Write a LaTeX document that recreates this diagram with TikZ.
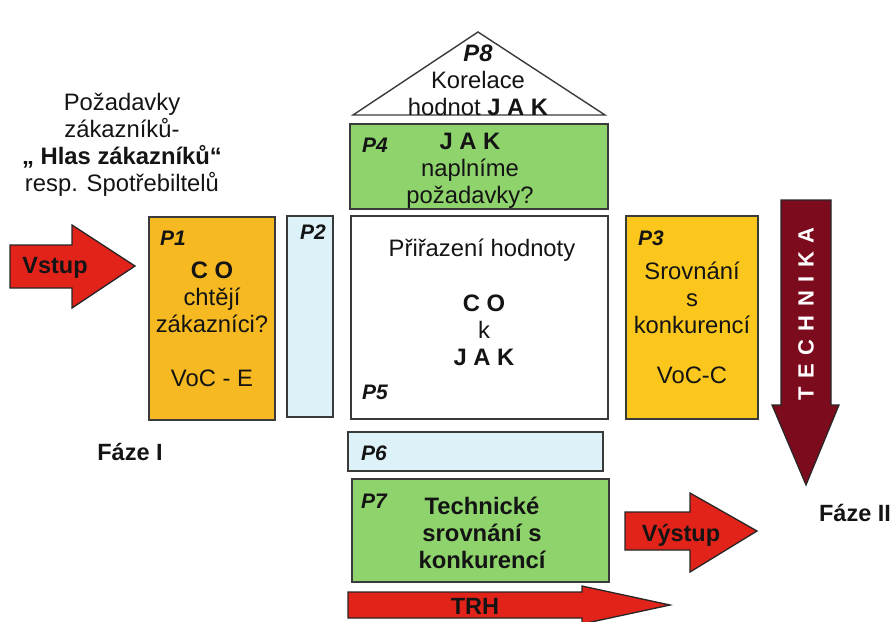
\documentclass[tikz,border=0pt]{standalone}
\usepackage{fontspec}
\setmainfont{Liberation Sans}
\definecolor{orangeA}{HTML}{F6B921}
\definecolor{orangeB}{HTML}{FBC71D}
\definecolor{greenC}{HTML}{8ED36B}
\definecolor{blueC}{HTML}{DCF1F8}
\definecolor{redC}{HTML}{E2231A}
\definecolor{maroonC}{HTML}{7D0B1E}
\definecolor{lineC}{HTML}{3A3A3A}
\definecolor{textC}{HTML}{141414}
\newcommand{\tk}{\kern8.5pt}
\begin{document}
\begin{tikzpicture}[x=1pt,y=-1pt,
  box/.style={draw=lineC, line width=1.4pt, inner sep=0pt},
  txt/.style={font=\fontsize{23.8}{27}\selectfont, text=textC, align=center, inner sep=0pt},
  plab/.style={font=\fontsize{21}{24}\selectfont\bfseries\itshape, text=textC, inner sep=0pt},
  blab/.style={font=\fontsize{23.5}{27}\selectfont\bfseries, text=textC, inner sep=0pt},
  bigarrow/.style={draw=black!85, line width=1.3pt, fill=redC}]
\useasboundingbox (0,0) rectangle (896,621);
\clip (0,0) rectangle (896,621);

% top-left text
\node[txt] (req) at (122,145) {Požadavky\\zákazníků-\\\textbf{„ Hlas zákazníků“}\\resp. Spotřebiltelů};

% P8 roof
\draw[box, fill=white] (353,115) -- (478,32) -- (605,115) -- cycle;
\node[txt] (p8t) at (478,80) {\textbf{\textit{P8}}\\Korelace\\hodnot \textbf{J A K}};

% P4
\node[box, fill=greenC, minimum width=258pt, minimum height=85pt] (p4) at (479,166.5) {};
\node[plab] (p4l) at (375,145) {P4};
\node[txt] (p4t) at (470,171) {\textbf{J A K}\\naplníme\\požadavky?};

% P1
\node[box, fill=orangeA, minimum width=126pt, minimum height=203pt] (p1) at (212,318.5) {};
\node[plab] (p1l) at (173,238) {P1};
\node[txt] (p1t) at (212,297) {\textbf{C O}\\chtějí\\zákazníci?};
\node[txt] (p1v) at (212,378) {VoC - E};

% P2
\node[box, fill=blueC, minimum width=46pt, minimum height=201pt] (p2) at (310,316.5) {};
\node[plab] (p2l) at (313,232) {P2};

% P5
\node[box, fill=white, minimum width=257pt, minimum height=203pt] (p5) at (479.5,317.5) {};
\node[txt] (p5a) at (482,250) {Přiřazení hodnoty};
\node[txt] (p5b) at (484,330) {\textbf{C O}\\k\\\textbf{J A K}};
\node[plab] (p5l) at (375,392) {P5};

% P3
\node[box, fill=orangeB, minimum width=132pt, minimum height=203pt] (p3) at (692,317.5) {};
\node[plab] (p3l) at (651,238) {P3};
\node[txt] (p3t) at (692,298) {Srovnání\\s\\konkurencí};
\node[txt] (p3v) at (692,375) {VoC-C};

% P6
\node[box, fill=blueC, minimum width=255pt, minimum height=39pt] (p6) at (475.5,451.5) {};
\node[plab] (p6l) at (374,453) {P6};

% P7
\node[box, fill=greenC, minimum width=257pt, minimum height=103pt] (p7) at (480.5,530.5) {};
\node[plab] (p7l) at (374,501) {P7};
\node[txt, font=\fontsize{23.8}{27}\selectfont\bfseries] (p7t) at (482,533) {Technické\\srovnání s\\konkurencí};

% Vstup arrow
\draw[bigarrow] (10,245) -- (72,245) -- (72,225) -- (135,266) -- (72,308) -- (72,288) -- (10,288) -- cycle;
\node[blab] (vstup) at (55,268) {Vstup};

% Vystup arrow
\draw[bigarrow] (625,512) -- (690,512) -- (690,493) -- (757,531) -- (690,572) -- (690,550) -- (625,550) -- cycle;
\node[blab] (vystup) at (681,535) {Výstup};

% TRH arrow
\draw[bigarrow] (348,592) -- (582,592) -- (582,586) -- (670,605) -- (582,624) -- (582,618) -- (348,618) -- cycle;
\node[blab] (trh) at (475,606) {TRH};

% TECHNIKA arrow
\draw[draw=black!85, line width=1.2pt, fill=maroonC] (781,200) -- (831,200) -- (831,405) -- (839,405) -- (806,485) -- (772,405) -- (781,405) -- cycle;
\node[blab, font=\fontsize{22}{24}\selectfont\bfseries, text=white, rotate=90] (tech) at (806,314) {T\tk E\tk C\tk H\tk N\tk I\tk K\tk A};

% phase labels
\node[blab] (f1) at (130,452) {Fáze I};
\node[blab] (f2) at (855,513) {Fáze II};
\end{tikzpicture}
\end{document}
